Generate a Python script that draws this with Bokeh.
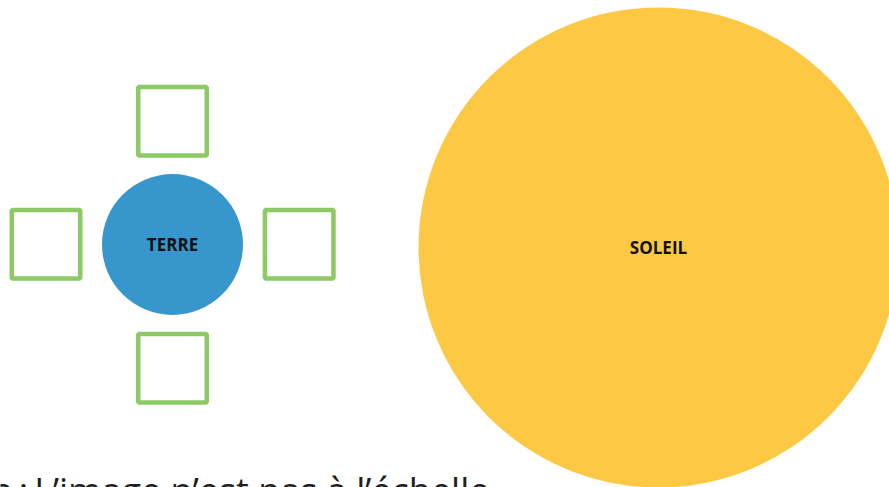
from bokeh.plotting import figure
from bokeh.models import Range1d, ColumnDataSource
from bokeh.core.properties import value
from bokeh.embed import file_html
from bokeh.resources import INLINE

# Bodies (diagram, not to scale)
bodies = ["TERRE", "SOLEIL"]
body_colors = ["#3796CC", "#FDC945"]
body_x = [172, 658]
body_y = [244, 247]
body_r = [70.5, 240]

# Empty answer boxes around the Earth
box_x = [172, 45.5, 298.7, 172]
box_y = [120.7, 243.8, 243.8, 367.7]
box_size = 68.5

note = "e\u2009:\u2009L\u2019image n\u2019est pas \u00e0 l\u2019\u00e9chelle"

W, H = 889, 487
p = figure(width=W, height=H, output_backend="svg", toolbar_location=None,
           x_range=Range1d(0, 889), y_range=Range1d(487, 0),
           min_border=0, outline_line_color=None)
p.axis.visible = False
p.grid.visible = False
p.background_fill_color = "white"
p.border_fill_color = "white"

src = ColumnDataSource(dict(x=body_x, y=body_y, r=body_r, c=body_colors, t=bodies))
p.circle(x="x", y="y", radius="r", fill_color="c", line_color=None, source=src)
p.text(x="x", y="y", text="t", source=src, text_align="center", text_baseline="middle",
       text_font=value("Open Sans"), text_font_style="bold", text_font_size="17px",
       text_color="#111111")

p.rect(x=box_x, y=box_y, width=box_size, height=box_size, fill_color=None,
       line_color="#8DC965", line_width=4.5)

p.text(x=[-8], y=[490], text=[note], text_align="left", text_baseline="alphabetic",
       text_font=value("Open Sans"), text_font_size="36px", text_color="#1f1f1f")

open("out.html", "w").write(file_html(p, INLINE))
